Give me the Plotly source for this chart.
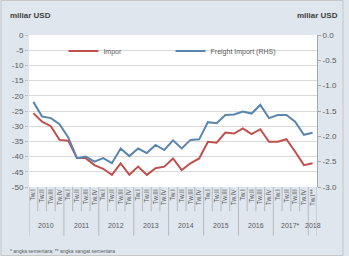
import plotly.graph_objects as go

years = ["2010", "2011", "2012", "2013", "2014", "2015", "2016", "2017*", "2018"]
quarters_per_year = [4, 4, 4, 4, 4, 4, 4, 4, 1]
quarter_names = ["Tw.I", "Tw.II", "Tw.III", "Tw.IV"]
last_label = "Tw.I**"

impor = [-25.7, -28.5, -30.0, -34.5, -34.8, -40.5, -40.5, -42.8, -44.0, -46.0,
         -42.2, -46.0, -43.3, -46.0, -43.8, -43.3, -40.6, -44.4, -42.2, -40.6,
         -35.1, -35.4, -32.1, -32.4, -30.7, -32.6, -31.0, -35.1, -35.1, -34.3,
         -38.4, -42.8, -42.2]
freight = [-1.32, -1.61, -1.64, -1.76, -2.02, -2.43, -2.40, -2.50, -2.43, -2.53,
           -2.24, -2.39, -2.24, -2.33, -2.17, -2.27, -2.08, -2.24, -2.07, -2.06,
           -1.72, -1.74, -1.58, -1.57, -1.51, -1.55, -1.38, -1.64, -1.58, -1.58,
           -1.71, -1.97, -1.93]

left_ticks = [0, -5, -10, -15, -20, -25, -30, -35, -40, -45, -50]
right_ticks = [0.0, -0.5, -1.0, -1.5, -2.0, -2.5, -3.0]

# build labels
qlabels = []
year_of = []
for y, n in zip(years, quarters_per_year):
    for q in range(n):
        qlabels.append(quarter_names[q])
        year_of.append(y)
qlabels[-1] = last_label
xs = list(range(len(qlabels)))

RED = "#c0504d"
BLUE = "#5a85ad"
GRID = "#d9d9d9"
TXT = "#595959"
BG = "#dfe6ee"
FONT = "Liberation Sans"

PW, PH = 293, 152  # plot area size in px

fig = go.Figure()
fig.add_trace(go.Scatter(x=xs, y=impor, mode="lines", name="Impor", showlegend=True,
                         line=dict(color=RED, width=2), legend="legend"))
fig.add_trace(go.Scatter(x=xs, y=freight, mode="lines", name="Freight Import (RHS)",
                         showlegend=True, line=dict(color=BLUE, width=2), yaxis="y2",
                         legend="legend2"))

shapes = []
start = 0
bounds = []
for n in quarters_per_year:
    bounds.append(start - 0.5)
    start += n
bounds.append(start - 0.5)
for i in range(len(qlabels) + 1):
    xb = i - 0.5
    long = xb in bounds
    shapes.append(dict(type="line", xref="x", yref="paper", x0=xb, x1=xb,
                       y0=0, y1=-0.32 if long else -0.16,
                       line=dict(color="#a6a6a6", width=0.7), layer="above"))
# outer figure border
shapes.append(dict(type="rect", xref="paper", yref="paper",
                   x0=-28.5 / PW, x1=1 + 26.5 / PW, y0=-68.5 / PH, y1=1 + 34.5 / PH,
                   line=dict(color="#c8c8c8", width=1), fillcolor="rgba(0,0,0,0)"))

annotations = []
start = 0
for y, n in zip(years, quarters_per_year):
    cx = start + (n - 1) / 2
    annotations.append(dict(x=cx, y=-0.25, xref="x", yref="paper", text=y,
                            showarrow=False, font=dict(size=7, color=TXT, family=FONT),
                            yanchor="middle"))
    start += n

annotations.append(dict(x=-21 / PW, y=-(251 - 187) / PH, xref="paper", yref="paper",
                        text="* angka sementara; ** angka sangat sementara",
                        showarrow=False, xanchor="left", yanchor="middle",
                        font=dict(size=5, color=TXT, family=FONT)))
annotations.append(dict(x=-21 / PW, y=1 + 20 / PH, xref="paper", yref="paper",
                        text="<b>miliar USD</b>", showarrow=False, xanchor="left",
                        yanchor="middle", font=dict(size=8, color="#404040", family=FONT)))
annotations.append(dict(x=1 + 23 / PW, y=1 + 20 / PH, xref="paper", yref="paper",
                        text="<b>miliar USD</b>", showarrow=False, xanchor="right",
                        yanchor="middle", font=dict(size=8, color="#404040", family=FONT)))

fig.update_layout(
    width=349, height=256,
    margin=dict(l=29, r=27, t=35, b=69),
    paper_bgcolor=BG, plot_bgcolor="white",
    font=dict(family=FONT, size=8, color=TXT),
    xaxis=dict(range=[-0.5, len(qlabels) - 0.5], tickmode="array", tickvals=xs,
               ticktext=qlabels, tickangle=-90, tickfont=dict(size=6.5, color=TXT),
               showgrid=False, zeroline=False, showline=False, ticks="",
               fixedrange=True),
    xaxis2=dict(range=[-0.5, len(qlabels) - 0.5], overlaying="x", side="top",
                tickmode="array", tickvals=[i - 0.5 for i in range(len(qlabels) + 1)],
                ticks="inside", ticklen=3, tickcolor="#a6a6a6", showticklabels=False,
                showline=True, linecolor="#bfbfbf", linewidth=1, showgrid=False,
                zeroline=False),
    yaxis=dict(range=[-50, 0], tickmode="array", tickvals=left_ticks,
               ticktext=[str(v) for v in left_ticks], showgrid=True, gridcolor=GRID,
               gridwidth=1, zeroline=False, ticks="outside", ticklen=3,
               tickcolor="#bfbfbf", tickfont=dict(size=8, color=TXT),
               showline=False),
    yaxis2=dict(range=[-3, 0], overlaying="y", side="right", tickmode="array",
                tickvals=right_ticks, ticktext=["%.1f" % v if v != 0 else "0.0" for v in right_ticks],
                showgrid=False, zeroline=False, ticks="outside", ticklen=3,
                tickcolor="#a6a6a6", showline=True, linecolor="#a6a6a6", linewidth=1,
                tickfont=dict(size=8, color=TXT)),
    legend=dict(x=(64 - 29) / PW, y=1 - 16 / PH, xanchor="left", yanchor="middle",
                bgcolor="rgba(0,0,0,0)", font=dict(size=7, color=TXT), itemwidth=30),
    legend2=dict(x=(173 - 29) / PW, y=1 - 16 / PH, xanchor="left", yanchor="middle",
                 bgcolor="rgba(0,0,0,0)", font=dict(size=7, color=TXT), itemwidth=30),
    shapes=shapes,
    annotations=annotations,
)

fig.write_html("out.html")
